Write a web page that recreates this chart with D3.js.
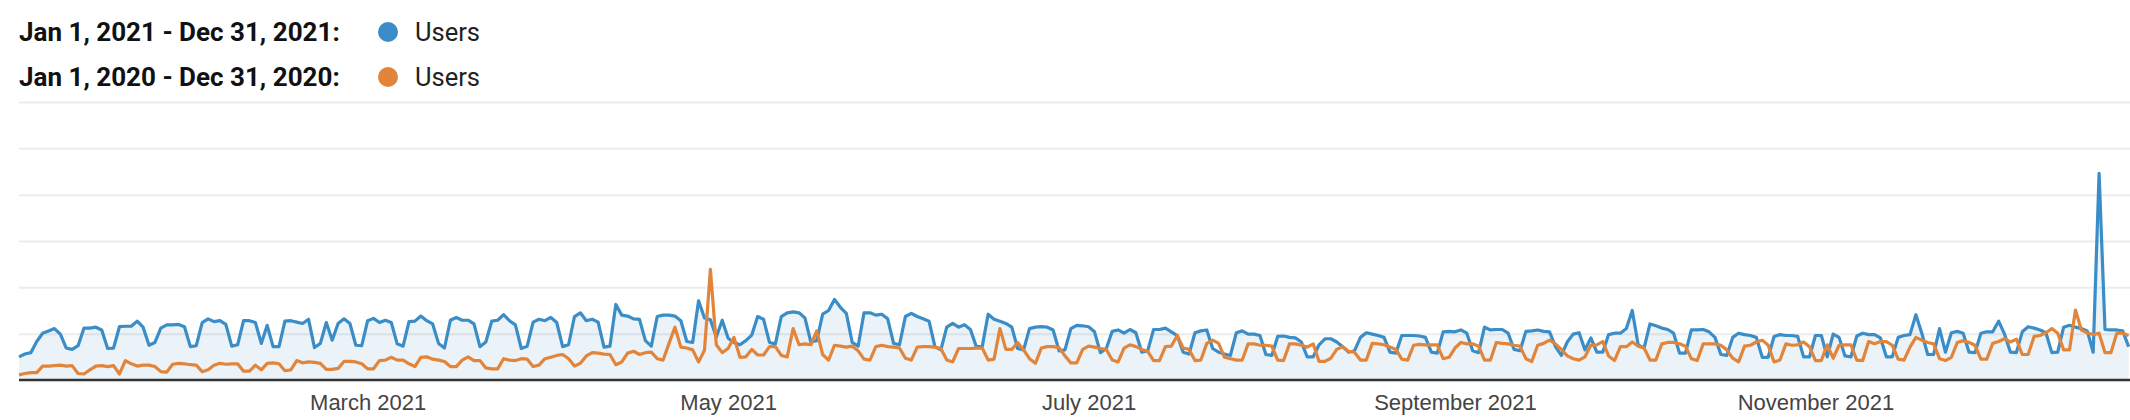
<!DOCTYPE html>
<html>
<head>
<meta charset="utf-8">
<script src="https://cdn.jsdelivr.net/npm/d3@7"></script>
<style>
  body { margin: 0; background: #fff; }
  svg { display: block; }
</style>
</head>
<body>
<svg id="chart" width="2130" height="420"></svg>
<script>
// Legend labels
const legendRanges = ['Jan 1, 2021 - Dec 31, 2021:', 'Jan 1, 2020 - Dec 31, 2020:'];
const legendMetric = 'Users';

// x axis labels (first of each labelled month)
const tickDates = ['2021-03-01', '2021-05-01', '2021-07-01', '2021-09-01', '2021-11-01'];
const yTicks = [0, 100, 200, 300, 400, 500, 600];

// Daily users, one value per day from Jan 1 (visible part of the year)
const users2021 = [
  50, 56, 59, 83, 101, 106, 111, 99, 69, 66,
  74, 112, 112, 114, 108, 68, 69, 115, 116, 116,
  127, 114, 75, 81, 112, 119, 119, 120, 115, 72,
  74, 124, 132, 126, 128, 120, 73, 76, 128, 128,
  124, 79, 118, 72, 72, 127, 128, 125, 122, 131,
  70, 79, 124, 86, 122, 132, 122, 75, 74, 128,
  133, 124, 129, 124, 78, 73, 126, 127, 138, 128,
  121, 79, 69, 129, 135, 129, 129, 121, 72, 82,
  127, 129, 141, 128, 119, 68, 73, 125, 131, 128,
  135, 124, 72, 76, 137, 145, 128, 131, 125, 71,
  73, 163, 140, 138, 132, 131, 85, 73, 137, 140,
  140, 138, 128, 83, 81, 171, 134, 130, 93, 129,
  90, 81, 76, 85, 97, 137, 131, 81, 78, 137,
  145, 147, 145, 134, 82, 85, 142, 150, 174, 157,
  144, 81, 73, 145, 145, 140, 142, 132, 79, 76,
  137, 144, 137, 132, 127, 72, 65, 114, 122, 114,
  119, 109, 72, 72, 142, 131, 127, 122, 114, 68,
  65, 111, 114, 115, 114, 108, 63, 65, 111, 118,
  117, 115, 104, 59, 68, 105, 108, 101, 109, 102,
  60, 63, 109, 109, 112, 104, 96, 60, 56, 102,
  106, 108, 68, 60, 56, 53, 102, 106, 99, 99,
  96, 55, 53, 94, 95, 92, 91, 82, 50, 50,
  76, 89, 89, 82, 72, 60, 63, 92, 102, 99,
  96, 92, 60, 58, 96, 96, 96, 95, 92, 60,
  58, 104, 105, 104, 108, 101, 63, 59, 114, 108,
  109, 109, 101, 66, 63, 105, 106, 108, 105, 104,
  72, 53, 82, 99, 102, 65, 91, 60, 60, 98,
  101, 101, 111, 150, 76, 69, 121, 117, 112, 109,
  101, 58, 58, 108, 108, 109, 104, 92, 55, 53,
  92, 101, 98, 96, 92, 49, 49, 94, 98, 96,
  96, 94, 50, 50, 96, 96, 50, 99, 92, 52,
  50, 95, 101, 98, 98, 91, 50, 50, 92, 96,
  98, 141, 101, 55, 55, 111, 60, 102, 105, 101,
  60, 59, 101, 104, 104, 127, 99, 60, 59, 104,
  115, 112, 108, 102, 59, 60, 114, 118, 114, 111,
  106, 60, 446, 109, 108, 108, 106, 72
];

const users2020 = [
  11, 14, 16, 16, 30, 30, 31, 32, 30, 31,
  14, 13, 22, 30, 31, 29, 31, 13, 42, 35,
  30, 32, 32, 29, 18, 17, 34, 36, 35, 33,
  32, 18, 22, 32, 36, 34, 35, 35, 19, 19,
  32, 22, 36, 37, 35, 20, 22, 42, 37, 39,
  38, 36, 23, 23, 25, 40, 40, 39, 35, 24,
  24, 42, 43, 49, 43, 43, 35, 29, 49, 50,
  45, 43, 40, 29, 29, 43, 50, 42, 42, 26,
  24, 24, 46, 43, 42, 46, 45, 29, 32, 46,
  49, 53, 55, 46, 30, 36, 52, 59, 58, 56,
  55, 33, 39, 58, 62, 55, 59, 60, 46, 43,
  79, 114, 71, 69, 65, 39, 64, 239, 76, 59,
  68, 92, 49, 50, 66, 54, 54, 72, 72, 53,
  50, 111, 76, 78, 76, 106, 55, 43, 75, 73,
  71, 73, 63, 45, 43, 72, 75, 72, 71, 69,
  47, 43, 71, 72, 72, 71, 68, 43, 39, 68,
  68, 68, 69, 69, 43, 45, 111, 66, 66, 81,
  65, 46, 36, 69, 72, 72, 70, 52, 37, 37,
  66, 73, 71, 68, 66, 43, 39, 69, 76, 72,
  66, 62, 42, 42, 72, 73, 96, 69, 66, 42,
  43, 79, 86, 79, 49, 46, 43, 43, 78, 78,
  75, 75, 73, 43, 42, 78, 78, 75, 71, 78,
  40, 40, 47, 66, 72, 62, 60, 43, 43, 79,
  78, 76, 71, 66, 45, 43, 75, 77, 76, 76,
  76, 46, 49, 69, 81, 78, 78, 73, 43, 43,
  81, 79, 78, 75, 73, 46, 40, 75, 79, 86,
  78, 66, 52, 46, 43, 50, 75, 76, 83, 52,
  42, 72, 72, 82, 73, 69, 43, 43, 78, 81,
  81, 78, 73, 46, 42, 78, 78, 78, 75, 65,
  47, 39, 73, 75, 82, 86, 75, 39, 43, 78,
  75, 76, 82, 72, 42, 42, 76, 47, 75, 76,
  76, 43, 42, 83, 78, 83, 83, 75, 45, 43,
  71, 92, 86, 81, 78, 46, 42, 49, 81, 85,
  81, 75, 45, 45, 79, 83, 89, 82, 88, 55,
  55, 94, 96, 102, 111, 101, 65, 65, 151, 108,
  102, 98, 101, 59, 59, 101, 101, 96
];

const colors = { current: '#3a8dc6', previous: '#e2853a' };

const svg = d3.select('#chart');
const width = +svg.attr('width');
const height = +svg.attr('height');
const margin = { top: 102, left: 19, bottom: 40 };

const parseDay = d3.timeParse('%Y-%m-%d');
const startDay = parseDay('2021-01-01');
const endDay = parseDay('2021-12-31');
const dayOf = (i) => d3.timeDay.offset(startDay, i);

// the plot runs past the window's right edge, like the screenshot
const xScale = d3.scaleTime().domain([startDay, endDay]).range([margin.left, 2170]);
const yScale = d3.scaleLinear().domain([0, 600]).range([height - margin.bottom, margin.top]);

// gridlines
const yAxis = d3.axisLeft(yScale).tickValues(yTicks.slice(1))
  .tickSize(-(width - margin.left)).tickFormat('');
const yAxisG = svg.append('g')
  .attr('transform', `translate(${margin.left},0)`)
  .call(yAxis);
yAxisG.select('.domain').remove();
yAxisG.selectAll('line').attr('stroke', '#ececec').attr('stroke-width', 2);

// area under the current year
const area = d3.area()
  .x((d, i) => xScale(dayOf(i)))
  .y0(yScale(0))
  .y1((d) => yScale(d));

svg.append('path')
  .datum(users2021)
  .attr('fill', colors.current)
  .attr('fill-opacity', 0.1)
  .attr('d', area);

const line = d3.line()
  .x((d, i) => xScale(dayOf(i)))
  .y((d) => yScale(d));

svg.append('path')
  .datum(users2021)
  .attr('fill', 'none')
  .attr('stroke', colors.current)
  .attr('stroke-width', 3.2)
  .attr('stroke-linejoin', 'round')
  .attr('d', line);

svg.append('path')
  .datum(users2020)
  .attr('fill', 'none')
  .attr('stroke', colors.previous)
  .attr('stroke-width', 3.2)
  .attr('stroke-linejoin', 'round')
  .attr('d', line);

// x axis with month labels
const xAxis = d3.axisBottom(xScale)
  .tickValues(tickDates.map(parseDay))
  .tickSize(0)
  .tickPadding(14)
  .tickFormat(d3.timeFormat('%B %Y'));

const xAxisG = svg.append('g')
  .attr('transform', `translate(0,${yScale(0)})`)
  .call(xAxis);
xAxisG.select('.domain')
  .attr('d', `M${margin.left},0H${width}`)
  .attr('stroke', '#333')
  .attr('stroke-width', 2.5);
xAxisG.selectAll('text')
  .attr('fill', '#444')
  .style('font-family', '"Liberation Sans", Arial, sans-serif')
  .style('font-size', '22px');

// legend
const legend = svg.append('g');
const legendRows = legend.selectAll('g')
  .data(legendRanges)
  .join('g')
  .attr('transform', (d, i) => `translate(0,${41 + i * 45})`);

legendRows.append('text')
  .attr('x', 19)
  .style('font-family', 'Roboto, sans-serif')
  .style('font-weight', 'bold')
  .style('font-size', '26px')
  .attr('fill', '#111')
  .text((d) => d);

legendRows.append('circle')
  .attr('cx', 388)
  .attr('cy', -9)
  .attr('r', 10)
  .attr('fill', (d, i) => (i == 0 ? colors.current : colors.previous));

legendRows.append('text')
  .attr('x', 415)
  .style('font-family', 'Roboto, sans-serif')
  .style('font-size', '25.5px')
  .attr('fill', '#222')
  .text(legendMetric);
</script>
</body>
</html>
